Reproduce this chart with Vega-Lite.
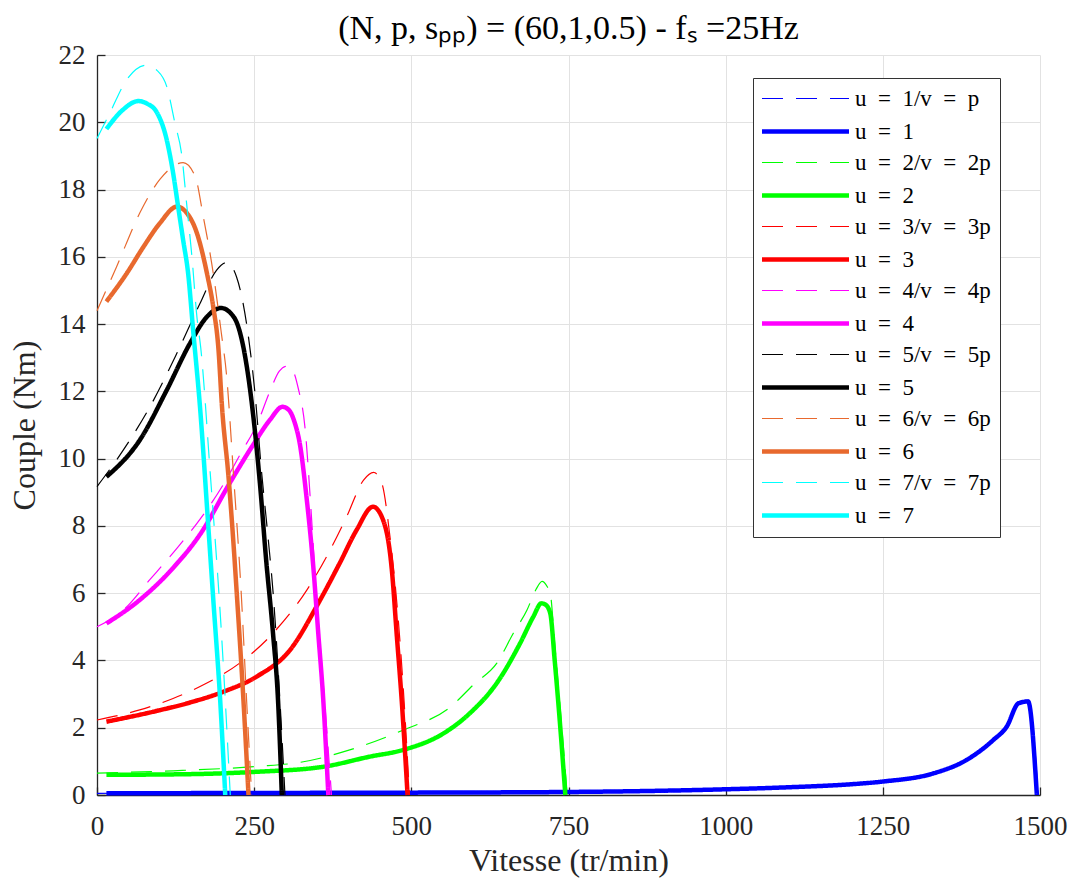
{
"$schema": "https://vega.github.io/schema/vega-lite/v6.json",
"width": 943, "height": 740,
"autosize": {"type": "none"},
"padding": {"left": 97, "top": 55, "right": 30, "bottom": 87},
"background": "white",
"title": {"text": "(N, p, sₚₚ) = (60,1,0.5) - fₛ =25Hz", "fontSize": 34, "font": "Liberation Serif", "fontWeight": "normal", "color": "#000", "anchor": "middle", "offset": -5},
"config": {
  "view": {"stroke": null},
  "axis": {"labelFont": "Liberation Serif", "labelFontSize": 27, "labelColor": "#262626", "titleFont": "Liberation Serif", "titleFontSize": 32, "titleFontWeight": "normal", "titleColor": "#262626", "domainColor": "#262626", "domainWidth": 1.3, "tickColor": "#262626", "tickSize": -8, "tickWidth": 1.3, "gridColor": "#e2e2e2", "gridWidth": 1},
  "legend": {"orient": "none", "legendX": 656, "legendY": 23, "symbolType": "M-4,0H4", "symbolSize": 473, "symbolOffset": 30, "labelFont": "Liberation Serif", "labelFontSize": 23, "labelColor": "#000", "rowPadding": 7, "padding": 9, "strokeColor": "#333", "fillColor": "white", "labelOffset": 36, "labelLimit": 400, "cornerRadius": 0}
},
"data": {"values": [
{"s":"u = 1/v = p","x":0,"y":0.05},{"s":"u = 1/v = p","x":250,"y":0.06},{"s":"u = 1/v = p","x":500,"y":0.07},{"s":"u = 1/v = p","x":750,"y":0.09},{"s":"u = 1/v = p","x":1000,"y":0.17},{"s":"u = 1/v = p","x":1100,"y":0.23},{"s":"u = 1/v = p","x":1200,"y":0.33},{"s":"u = 1/v = p","x":1250,"y":0.41},{"s":"u = 1/v = p","x":1330,"y":0.65},{"s":"u = 1/v = p","x":1383,"y":1.05},{"s":"u = 1/v = p","x":1426,"y":1.66},{"s":"u = 1/v = p","x":1447,"y":2.06},{"s":"u = 1/v = p","x":1466,"y":2.76},{"s":"u = 1/v = p","x":1482,"y":2.82},{"s":"u = 1/v = p","x":1497,"y":0},
{"s":"u = 1","x":15,"y":0.05},{"s":"u = 1","x":250,"y":0.06},{"s":"u = 1","x":500,"y":0.07},{"s":"u = 1","x":750,"y":0.09},{"s":"u = 1","x":1000,"y":0.17},{"s":"u = 1","x":1100,"y":0.23},{"s":"u = 1","x":1200,"y":0.32},{"s":"u = 1","x":1250,"y":0.4},{"s":"u = 1","x":1330,"y":0.64},{"s":"u = 1","x":1383,"y":1.04},{"s":"u = 1","x":1426,"y":1.64},{"s":"u = 1","x":1447,"y":2.03},{"s":"u = 1","x":1466,"y":2.73},{"s":"u = 1","x":1481,"y":2.78},{"s":"u = 1","x":1495,"y":0},
{"s":"u = 2/v = 2p","x":0,"y":0.65},{"s":"u = 2/v = 2p","x":121,"y":0.72},{"s":"u = 2/v = 2p","x":254,"y":0.85},{"s":"u = 2/v = 2p","x":323,"y":0.97},{"s":"u = 2/v = 2p","x":402,"y":1.34},{"s":"u = 2/v = 2p","x":487,"y":1.93},{"s":"u = 2/v = 2p","x":561,"y":2.6},{"s":"u = 2/v = 2p","x":600,"y":3.3},{"s":"u = 2/v = 2p","x":636,"y":3.92},{"s":"u = 2/v = 2p","x":662,"y":4.8},{"s":"u = 2/v = 2p","x":684,"y":5.5},{"s":"u = 2/v = 2p","x":698,"y":6.1},{"s":"u = 2/v = 2p","x":708,"y":6.35},{"s":"u = 2/v = 2p","x":716,"y":6.2},{"s":"u = 2/v = 2p","x":721,"y":6.0},{"s":"u = 2/v = 2p","x":728,"y":4.51},{"s":"u = 2/v = 2p","x":737,"y":2.53},{"s":"u = 2/v = 2p","x":748,"y":0},
{"s":"u = 2","x":15,"y":0.6},{"s":"u = 2","x":148,"y":0.62},{"s":"u = 2","x":254,"y":0.69},{"s":"u = 2","x":360,"y":0.84},{"s":"u = 2","x":434,"y":1.14},{"s":"u = 2","x":487,"y":1.34},{"s":"u = 2","x":551,"y":1.83},{"s":"u = 2","x":593,"y":2.43},{"s":"u = 2","x":636,"y":3.33},{"s":"u = 2","x":673,"y":4.51},{"s":"u = 2","x":694,"y":5.3},{"s":"u = 2","x":707,"y":5.7},{"s":"u = 2","x":714,"y":5.65},{"s":"u = 2","x":721,"y":5.4},{"s":"u = 2","x":728,"y":4.01},{"s":"u = 2","x":736,"y":2.23},{"s":"u = 2","x":745,"y":0},
{"s":"u = 3/v = 3p","x":0,"y":2.23},{"s":"u = 3/v = 3p","x":68,"y":2.53},{"s":"u = 3/v = 3p","x":121,"y":2.87},{"s":"u = 3/v = 3p","x":174,"y":3.32},{"s":"u = 3/v = 3p","x":227,"y":3.92},{"s":"u = 3/v = 3p","x":280,"y":4.81},{"s":"u = 3/v = 3p","x":334,"y":6.1},{"s":"u = 3/v = 3p","x":365,"y":7.08},{"s":"u = 3/v = 3p","x":397,"y":8.27},{"s":"u = 3/v = 3p","x":424,"y":9.36},{"s":"u = 3/v = 3p","x":440,"y":9.59},{"s":"u = 3/v = 3p","x":453,"y":9.27},{"s":"u = 3/v = 3p","x":466,"y":7.68},{"s":"u = 3/v = 3p","x":477,"y":5.7},{"s":"u = 3/v = 3p","x":487,"y":3.22},{"s":"u = 3/v = 3p","x":497,"y":0},
{"s":"u = 3","x":15,"y":2.18},{"s":"u = 3","x":95,"y":2.5},{"s":"u = 3","x":148,"y":2.75},{"s":"u = 3","x":201,"y":3.07},{"s":"u = 3","x":254,"y":3.52},{"s":"u = 3","x":307,"y":4.31},{"s":"u = 3","x":355,"y":5.8},{"s":"u = 3","x":386,"y":6.89},{"s":"u = 3","x":413,"y":7.88},{"s":"u = 3","x":439,"y":8.57},{"s":"u = 3","x":455,"y":8.18},{"s":"u = 3","x":469,"y":6.69},{"s":"u = 3","x":477,"y":4.71},{"s":"u = 3","x":485,"y":2.73},{"s":"u = 3","x":494,"y":0},
{"s":"u = 4/v = 4p","x":0,"y":5.0},{"s":"u = 4/v = 4p","x":42,"y":5.5},{"s":"u = 4/v = 4p","x":84,"y":6.4},{"s":"u = 4/v = 4p","x":121,"y":7.2},{"s":"u = 4/v = 4p","x":164,"y":8.2},{"s":"u = 4/v = 4p","x":200,"y":9.2},{"s":"u = 4/v = 4p","x":230,"y":10.2},{"s":"u = 4/v = 4p","x":254,"y":11.0},{"s":"u = 4/v = 4p","x":275,"y":12.0},{"s":"u = 4/v = 4p","x":290,"y":12.6},{"s":"u = 4/v = 4p","x":302,"y":12.75},{"s":"u = 4/v = 4p","x":312,"y":12.6},{"s":"u = 4/v = 4p","x":320,"y":12.1},{"s":"u = 4/v = 4p","x":331,"y":10.9},{"s":"u = 4/v = 4p","x":340,"y":8.6},{"s":"u = 4/v = 4p","x":349,"y":5.9},{"s":"u = 4/v = 4p","x":360,"y":3.3},{"s":"u = 4/v = 4p","x":373,"y":0},
{"s":"u = 4","x":15,"y":5.1},{"s":"u = 4","x":68,"y":5.8},{"s":"u = 4","x":121,"y":6.75},{"s":"u = 4","x":164,"y":7.75},{"s":"u = 4","x":212,"y":9.3},{"s":"u = 4","x":248,"y":10.4},{"s":"u = 4","x":275,"y":11.15},{"s":"u = 4","x":295,"y":11.54},{"s":"u = 4","x":305,"y":11.45},{"s":"u = 4","x":314,"y":11.1},{"s":"u = 4","x":323,"y":10.4},{"s":"u = 4","x":333,"y":8.9},{"s":"u = 4","x":344,"y":6.8},{"s":"u = 4","x":352,"y":4.8},{"s":"u = 4","x":360,"y":2.8},{"s":"u = 4","x":368,"y":0},
{"s":"u = 5/v = 5p","x":0,"y":9.17},{"s":"u = 5/v = 5p","x":42,"y":10.26},{"s":"u = 5/v = 5p","x":90,"y":11.74},{"s":"u = 5/v = 5p","x":127,"y":13.13},{"s":"u = 5/v = 5p","x":164,"y":14.62},{"s":"u = 5/v = 5p","x":190,"y":15.6},{"s":"u = 5/v = 5p","x":206,"y":15.83},{"s":"u = 5/v = 5p","x":222,"y":15.4},{"s":"u = 5/v = 5p","x":238,"y":14.0},{"s":"u = 5/v = 5p","x":251,"y":12.0},{"s":"u = 5/v = 5p","x":262,"y":9.56},{"s":"u = 5/v = 5p","x":272,"y":7.68},{"s":"u = 5/v = 5p","x":281,"y":5.8},{"s":"u = 5/v = 5p","x":291,"y":2.8},{"s":"u = 5/v = 5p","x":299,"y":0},
{"s":"u = 5","x":15,"y":9.46},{"s":"u = 5","x":68,"y":10.55},{"s":"u = 5","x":111,"y":12.04},{"s":"u = 5","x":148,"y":13.43},{"s":"u = 5","x":175,"y":14.22},{"s":"u = 5","x":197,"y":14.48},{"s":"u = 5","x":218,"y":14.2},{"s":"u = 5","x":235,"y":13.1},{"s":"u = 5","x":249,"y":11.2},{"s":"u = 5","x":259,"y":9.3},{"s":"u = 5","x":269,"y":7.0},{"s":"u = 5","x":280,"y":4.8},{"s":"u = 5","x":288,"y":2.8},{"s":"u = 5","x":294,"y":0},
{"s":"u = 6/v = 6p","x":0,"y":14.4},{"s":"u = 6/v = 6p","x":31,"y":15.7},{"s":"u = 6/v = 6p","x":68,"y":17.3},{"s":"u = 6/v = 6p","x":100,"y":18.3},{"s":"u = 6/v = 6p","x":137,"y":18.8},{"s":"u = 6/v = 6p","x":156,"y":18.4},{"s":"u = 6/v = 6p","x":169,"y":17.2},{"s":"u = 6/v = 6p","x":185,"y":15.5},{"s":"u = 6/v = 6p","x":198,"y":13.7},{"s":"u = 6/v = 6p","x":206,"y":12.5},{"s":"u = 6/v = 6p","x":217,"y":9.56},{"s":"u = 6/v = 6p","x":230,"y":5.8},{"s":"u = 6/v = 6p","x":238,"y":2.8},{"s":"u = 6/v = 6p","x":246,"y":0},
{"s":"u = 6","x":15,"y":14.67},{"s":"u = 6","x":47,"y":15.5},{"s":"u = 6","x":74,"y":16.3},{"s":"u = 6","x":100,"y":17.0},{"s":"u = 6","x":127,"y":17.49},{"s":"u = 6","x":143,"y":17.3},{"s":"u = 6","x":159,"y":16.7},{"s":"u = 6","x":175,"y":15.5},{"s":"u = 6","x":185,"y":14.5},{"s":"u = 6","x":193,"y":13.3},{"s":"u = 6","x":199,"y":11.5},{"s":"u = 6","x":209,"y":9.5},{"s":"u = 6","x":217,"y":7.5},{"s":"u = 6","x":223,"y":5.8},{"s":"u = 6","x":233,"y":2.8},{"s":"u = 6","x":241,"y":0},
{"s":"u = 7/v = 7p","x":0,"y":19.52},{"s":"u = 7/v = 7p","x":21,"y":20.3},{"s":"u = 7/v = 7p","x":47,"y":21.26},{"s":"u = 7/v = 7p","x":79,"y":21.7},{"s":"u = 7/v = 7p","x":95,"y":21.55},{"s":"u = 7/v = 7p","x":111,"y":21.06},{"s":"u = 7/v = 7p","x":124,"y":19.97},{"s":"u = 7/v = 7p","x":135,"y":19.0},{"s":"u = 7/v = 7p","x":143,"y":17.5},{"s":"u = 7/v = 7p","x":151,"y":16.0},{"s":"u = 7/v = 7p","x":159,"y":14.2},{"s":"u = 7/v = 7p","x":165,"y":13.3},{"s":"u = 7/v = 7p","x":180,"y":9.6},{"s":"u = 7/v = 7p","x":198,"y":4.8},{"s":"u = 7/v = 7p","x":212,"y":0},
{"s":"u = 7","x":15,"y":19.8},{"s":"u = 7","x":40,"y":20.35},{"s":"u = 7","x":66,"y":20.63},{"s":"u = 7","x":80,"y":20.55},{"s":"u = 7","x":95,"y":20.3},{"s":"u = 7","x":111,"y":19.47},{"s":"u = 7","x":121,"y":18.5},{"s":"u = 7","x":129,"y":17.5},{"s":"u = 7","x":137,"y":16.5},{"s":"u = 7","x":145,"y":15.5},{"s":"u = 7","x":153,"y":13.8},{"s":"u = 7","x":164,"y":11.5},{"s":"u = 7","x":177,"y":8.0},{"s":"u = 7","x":185,"y":5.8},{"s":"u = 7","x":196,"y":2.8},{"s":"u = 7","x":204,"y":0}
]},
"mark": {"type": "line", "strokeCap": "butt", "strokeJoin": "round", "interpolate": "monotone"},
"encoding": {
  "x": {"field": "x", "type": "quantitative", "scale": {"domain": [0, 1500], "nice": false, "zero": false}, "axis": {"values": [0, 250, 500, 750, 1000, 1250, 1500], "format": "d", "title": "Vitesse (tr/min)", "labelPadding": 26, "titlePadding": 6, "grid": true, "labelFlush": false}},
  "y": {"field": "y", "type": "quantitative", "scale": {"domain": [0, 22], "nice": false}, "axis": {"values": [0, 2, 4, 6, 8, 10, 12, 14, 16, 18, 20, 22], "format": "d", "title": "Couple (Nm)", "labelPadding": 20, "titlePadding": 17, "grid": true, "labelFlush": false}},
  "color": {"field": "s", "type": "nominal", "title": null,
    "legend": {"labelExpr": "replace(replace(datum.label, ' = ', '\u2002=\u2002'), ' = ', '\u2002=\u2002')"},
    "scale": {"domain": ["u = 1/v = p","u = 1","u = 2/v = 2p","u = 2","u = 3/v = 3p","u = 3","u = 4/v = 4p","u = 4","u = 5/v = 5p","u = 5","u = 6/v = 6p","u = 6","u = 7/v = 7p","u = 7"],
      "range": ["#0000ff","#0000ff","#00ff00","#00ff00","#ff0000","#ff0000","#ff00ff","#ff00ff","#000000","#000000","#e8692e","#e8692e","#00ffff","#00ffff"]}},
  "strokeDash": {"field": "s", "type": "nominal", "title": null,
    "legend": {"labelExpr": "replace(replace(datum.label, ' = ', '\u2002=\u2002'), ' = ', '\u2002=\u2002')"},
    "scale": {"domain": ["u = 1/v = p","u = 1","u = 2/v = 2p","u = 2","u = 3/v = 3p","u = 3","u = 4/v = 4p","u = 4","u = 5/v = 5p","u = 5","u = 6/v = 6p","u = 6","u = 7/v = 7p","u = 7"],
      "range": [[21,13],[1,0],[21,13],[1,0],[21,13],[1,0],[21,13],[1,0],[21,13],[1,0],[21,13],[1,0],[21,13],[1,0]]}},
  "strokeWidth": {"field": "s", "type": "nominal", "title": null,
    "legend": {"labelExpr": "replace(replace(datum.label, ' = ', '\u2002=\u2002'), ' = ', '\u2002=\u2002')"},
    "scale": {"type": "ordinal", "domain": ["u = 1/v = p","u = 1","u = 2/v = 2p","u = 2","u = 3/v = 3p","u = 3","u = 4/v = 4p","u = 4","u = 5/v = 5p","u = 5","u = 6/v = 6p","u = 6","u = 7/v = 7p","u = 7"],
      "range": [1.2,4.5,1.2,4.5,1.2,4.5,1.2,4.5,1.2,4.5,1.2,4.5,1.2,4.5]}}
}
}
